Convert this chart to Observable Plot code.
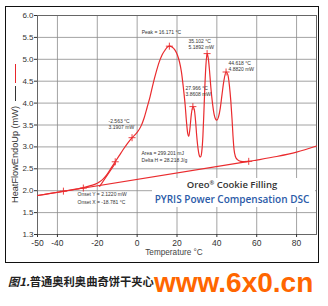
<!DOCTYPE html>
<html><head><meta charset="utf-8">
<script src="https://cdn.jsdelivr.net/npm/d3@7"></script>
<script src="https://cdn.jsdelivr.net/npm/@observablehq/plot@0.6"></script>
<style>
body{margin:0;background:#fff;}
#wrap{position:relative;width:328px;height:306px;overflow:hidden;font-family:"Liberation Sans",Arial,sans-serif;}
#chart{position:absolute;left:0;top:0;}
#border{position:absolute;left:5px;top:6px;width:314px;height:257px;border:1.5px solid #111;box-sizing:border-box;}
#ylab{position:absolute;left:-55px;top:126.5px;width:140px;height:12px;transform:rotate(-90deg);display:flex;align-items:center;font-size:9.2px;color:#333;white-space:nowrap;}
#ylab .blk{display:inline-block;width:15px;height:0;border-top:1px solid #333;margin-left:5px;}
#ylab .red{display:inline-block;width:19px;height:0;border-top:1.6px solid #e8262b;margin-left:3px;}
#xlab{position:absolute;left:124px;width:100px;top:249px;text-align:center;font-size:8.2px;line-height:1;color:#444;}
#box{position:absolute;left:152px;top:178px;width:163px;height:29px;background:#fff;}
.t1{position:absolute;left:152px;width:160px;text-align:center;line-height:1;font-family:"Open Sans",sans-serif;font-weight:600;white-space:nowrap;}
#oreo{top:179.6px;font-size:9.5px;color:#333;}
#oreo span{font-size:0.6em;vertical-align:0.5em;}
#pyris{top:194px;font-size:10px;color:#2b5ba8;}
#cap{position:absolute;left:8px;top:276px;font-family:"Noto Sans CJK SC",sans-serif;font-size:11.3px;font-weight:700;line-height:1;color:#222;white-space:nowrap;}
#cap i{font-style:italic;}
#wm{position:absolute;left:154px;top:268.5px;font-family:"Liberation Sans",Arial,sans-serif;font-weight:700;font-size:28px;line-height:1;color:#ff6600;white-space:nowrap;}
</style>
</head><body>
<div id="wrap">
<div id="chart"></div>
<div id="box"></div>
<div id="oreo" class="t1">Oreo<span>®</span> Cookie Filling</div>
<div id="pyris" class="t1">PYRIS Power Compensation DSC</div>
<div id="ylab"><span>HeatFlowEndoUp (mW)</span><span class="blk"></span><span class="red"></span></div>
<div id="xlab">Temperature °C</div>
<div id="border"></div>
<div id="cap"><i>图1.</i>普通奥利奥曲奇饼干夹心</div>
<div id="wm">www.6x0.cn</div>
</div>
<script>
// DSC curve (Temperature °C, Heat flow mW)
const dscTemp = [-50,-40,-30,-26,-23,-21,-19,-17,-15,-13,-11,-9,-7,-5,-2.5,0,2,3.5,5,6.5,8,9.5,11,12.5,14,15.2,16.2,17.5,19,20.2,21.2,22.2,23.2,24.1,24.8,25.4,25.9,26.5,27.2,28.0,28.7,29.3,29.9,30.6,31.3,31.8,32.4,33,33.5,34,34.5,35.1,35.7,36.3,37,37.8,38.6,39.3,40,40.8,41.7,42.6,43.5,44.6,45.5,46.3,47,47.6,48.1,48.6,49.3,50.3,52,54,56,60,70,80,90];
const dscHeat = [1.89,1.96,2.04,2.08,2.12,2.15,2.20,2.27,2.38,2.52,2.66,2.80,2.94,3.07,3.21,3.33,3.48,3.66,3.90,4.15,4.44,4.70,4.93,5.10,5.21,5.28,5.30,5.28,5.21,5.10,4.95,4.72,4.35,3.95,3.55,3.30,3.24,3.42,3.75,3.92,3.85,3.60,3.25,2.95,2.79,2.77,2.88,3.25,3.80,4.40,4.86,5.13,5.02,4.75,4.35,4.00,3.75,3.64,3.61,3.68,3.88,4.20,4.50,4.71,4.65,4.40,4.05,3.65,3.25,2.95,2.78,2.71,2.67,2.665,2.67,2.70,2.78,2.88,3.02];
// integration baseline and onset tangent
const baseTemp = [-50, 56];
const baseHeat = [1.89, 2.67];
const tangentTemp = [-18.8, -11];
const tangentHeat = [2.10, 2.62];
// cursor marks
const markTemp = [-37,-27,-11,-2.563,16.171,27.966,35.102,44.618,56];
const markHeat = [1.99,2.06,2.66,3.21,5.30,3.92,5.13,4.71,2.67];
// annotation texts
const peakText = "Peak = 16.171 °C";
const p35Text = "35.102 °C\n5.1892 mW";
const p44Text = "44.618 °C\n4.8820 mW";
const p28Text = "27.966 °C\n3.8608 mW";
const pm2Text = "-2.563 °C\n3.1907 mW";
const areaText = "Area = 299.201 mJ\nDelta H = 28.218 J/g";
const areaTemp = 2.2, areaHeat = 2.79;
const onsetText = "Onset Y = 2.1220 mW\nOnset X = -18.781 °C";
const onsetTemp = -29.9, onsetHeat = 1.84;
// axes
const xTicks = [-50,-40,-20,0,20,40,60,80];
const xGrid = [-40,-20,0,20,40,60,80];
const yTicks = [1.0,1.5,2.0,2.5,3.0,3.5,4.0,4.5,5.0,5.5,6.0];
const yTickLabels = ["1.3","1.5","2.0","2.5","3.0","3.5","4.0","4.5","5.0","5.5","6.0"];
const yGrid = [1.5,2.0,2.5,3.0,3.5,4.0,4.5,5.0,5.5];

const red = "#ea2b2e";
const dsc = dscTemp.map((t,i)=>({t, h: dscHeat[i]}));
const base = baseTemp.map((t,i)=>({t, h: baseHeat[i]}));
const tang = tangentTemp.map((t,i)=>({t, h: tangentHeat[i]}));
const marks = markTemp.map((t,i)=>({t, h: markHeat[i]}));
const yLab = new Map(yTicks.map((v,i)=>[v, yTickLabels[i]]));
const ann = (i, text, dx, dy, anchor) => Plot.text([marks[i]], {x:"t", y:"h", text:()=>text, dx, dy, textAnchor:anchor, fontSize:5, lineHeight:1.25, fill:"#333"});

const chart = Plot.plot({
  width: 328, height: 268,
  marginLeft: 37, marginRight: 12, marginTop: 15, marginBottom: 34,
  x: {domain: [-50, 90], label: null},
  y: {domain: [1.0, 6.0], label: null},
  style: {fontFamily: "Liberation Sans, Arial, sans-serif", color: "#333", background: "transparent"},
  marks: [
    Plot.gridX(xGrid, {stroke: "#8c8c8c", strokeOpacity: 1, strokeWidth: 0.8}),
    Plot.gridY(yGrid, {stroke: "#8c8c8c", strokeOpacity: 1, strokeWidth: 0.8}),
    Plot.frame({stroke: "#666"}),
    Plot.axisX({ticks: xTicks, tickSize: 3, tickPadding: 2, fontSize: 8.5, label: null, tickFormat: d => String(d)}),
    Plot.axisY({ticks: yTicks, tickSize: 3, tickPadding: 1, fontSize: 8, label: null, tickFormat: d => yLab.get(d)}),
    Plot.line(base, {x: "t", y: "h", stroke: red, strokeWidth: 1.2}),
    Plot.line(tang, {x: "t", y: "h", stroke: red, strokeWidth: 1.1}),
    Plot.line(dsc, {x: "t", y: "h", stroke: red, strokeWidth: 1.2, curve: "monotone-x"}),
    Plot.dot(marks, {x: "t", y: "h", symbol: "plus", r: 2.4, stroke: red, strokeWidth: 0.9}),
    ann(4, peakText, -8, -14, "middle"),
    ann(6, p35Text, -18.6, -9.5, "start"),
    ann(7, p44Text, 2.4, -5.8, "start"),
    ann(5, p28Text, -7.4, -15.5, "start"),
    ann(3, pm2Text, -23.5, -14, "start"),
    Plot.text([{t: areaTemp, h: areaHeat}], {x: "t", y: "h", text: () => areaText, textAnchor: "start", fontSize: 5, lineHeight: 1.45, fill: "#333"}),
    Plot.text([{t: onsetTemp, h: onsetHeat}], {x: "t", y: "h", text: () => onsetText, textAnchor: "start", fontSize: 5, lineHeight: 1.5, fill: "#333"})
  ]
});
document.getElementById("chart").appendChild(chart);
</script>
</body></html>
